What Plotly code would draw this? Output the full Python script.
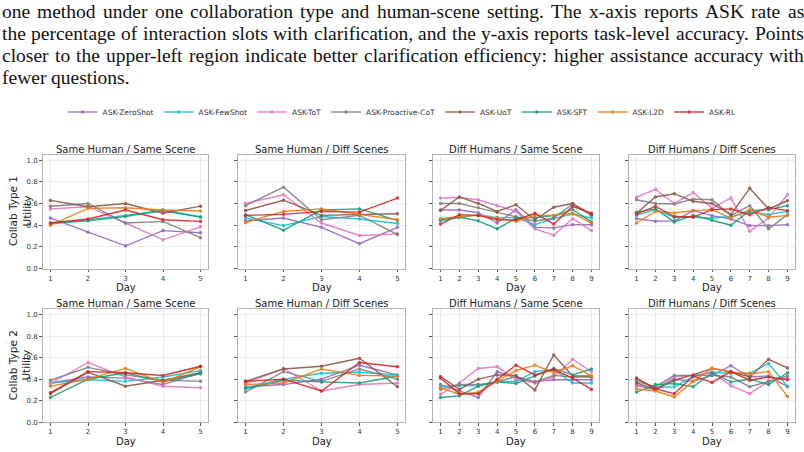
import plotly.graph_objects as go

W, H = 804, 452

methods = ["ASK-ZeroShot", "ASK-FewShot", "ASK-ToT", "ASK-Proactive-CoT",
           "ASK-UoT", "ASK-SFT", "ASK-L2D", "ASK-RL"]
colors = ["#9467bd", "#17becf", "#e377c2", "#7f7f7f",
          "#8c564b", "#1a9e77", "#ef7b10", "#d62728"]

days5 = [1, 2, 3, 4, 5]
days9 = [1, 2, 3, 4, 5, 6, 7, 8, 9]

panel_titles = ["Same Human / Same Scene", "Same Human / Diff Scenes",
                "Diff Humans / Same Scene", "Diff Humans / Diff Scenes"]
row_labels = ["Collab Type 1<br>Utility", "Collab Type 2<br>Utility"]
y_ticks = [0.0, 0.2, 0.4, 0.6, 0.8, 1.0]

# values in method order: ZeroShot, FewShot, ToT, Proactive-CoT, UoT, SFT, L2D, RL
t1_same_same = [
    [0.465, 0.335, 0.21, 0.35, 0.33],
    [0.41, 0.45, 0.49, 0.53, 0.475],
    [0.55, 0.57, 0.42, 0.265, 0.385],
    [0.575, 0.60, 0.42, 0.435, 0.285],
    [0.628, 0.57, 0.60, 0.51, 0.575],
    [0.42, 0.44, 0.48, 0.54, 0.475],
    [0.40, 0.555, 0.56, 0.54, 0.53],
    [0.42, 0.457, 0.54, 0.45, 0.435],
]
t1_same_diff = [
    [0.44, 0.466, 0.38, 0.23, 0.38],
    [0.466, 0.396, 0.48, 0.457, 0.415],
    [0.60, 0.68, 0.42, 0.305, 0.32],
    [0.58, 0.75, 0.45, 0.49, 0.315],
    [0.535, 0.63, 0.49, 0.50, 0.505],
    [0.497, 0.354, 0.54, 0.55, 0.445],
    [0.425, 0.527, 0.55, 0.497, 0.45],
    [0.49, 0.50, 0.527, 0.52, 0.65],
]
t1_diff_same = [
    [0.54, 0.54, 0.515, 0.42, 0.543, 0.38, 0.375, 0.405, 0.405],
    [0.44, 0.47, 0.497, 0.47, 0.47, 0.405, 0.46, 0.503, 0.466],
    [0.65, 0.655, 0.634, 0.58, 0.527, 0.366, 0.308, 0.46, 0.35],
    [0.60, 0.60, 0.56, 0.52, 0.48, 0.436, 0.466, 0.595, 0.49],
    [0.537, 0.66, 0.60, 0.527, 0.588, 0.45, 0.565, 0.60, 0.497],
    [0.45, 0.475, 0.44, 0.366, 0.466, 0.47, 0.488, 0.543, 0.43],
    [0.46, 0.48, 0.49, 0.466, 0.436, 0.49, 0.49, 0.51, 0.42],
    [0.41, 0.497, 0.49, 0.45, 0.448, 0.51, 0.41, 0.573, 0.51],
]
t1_diff_diff = [
    [0.46, 0.436, 0.44, 0.534, 0.488, 0.457, 0.396, 0.396, 0.405],
    [0.49, 0.543, 0.473, 0.473, 0.466, 0.48, 0.52, 0.497, 0.527],
    [0.658, 0.73, 0.60, 0.70, 0.557, 0.65, 0.345, 0.466, 0.68],
    [0.634, 0.60, 0.595, 0.64, 0.634, 0.49, 0.58, 0.366, 0.497],
    [0.51, 0.66, 0.69, 0.62, 0.60, 0.497, 0.74, 0.55, 0.625],
    [0.52, 0.55, 0.43, 0.49, 0.445, 0.40, 0.534, 0.543, 0.58],
    [0.42, 0.527, 0.512, 0.534, 0.543, 0.466, 0.543, 0.473, 0.49],
    [0.503, 0.573, 0.48, 0.475, 0.543, 0.55, 0.497, 0.564, 0.534],
]
t2_same_same = [
    [0.365, 0.42, 0.41, 0.35, 0.46],
    [0.365, 0.395, 0.38, 0.42, 0.48],
    [0.36, 0.555, 0.42, 0.335, 0.32],
    [0.39, 0.51, 0.44, 0.39, 0.38],
    [0.265, 0.465, 0.335, 0.39, 0.46],
    [0.23, 0.40, 0.46, 0.375, 0.45],
    [0.335, 0.40, 0.50, 0.37, 0.515],
    [0.275, 0.47, 0.46, 0.435, 0.52],
]
t2_same_diff = [
    [0.33, 0.35, 0.40, 0.53, 0.44],
    [0.32, 0.40, 0.455, 0.465, 0.44],
    [0.36, 0.50, 0.29, 0.35, 0.365],
    [0.28, 0.47, 0.38, 0.495, 0.40],
    [0.38, 0.495, 0.52, 0.595, 0.33],
    [0.31, 0.39, 0.375, 0.365, 0.43],
    [0.35, 0.365, 0.495, 0.435, 0.43],
    [0.38, 0.40, 0.29, 0.555, 0.515],
]
t2_diff_same = [
    [0.35, 0.29, 0.23, 0.47, 0.41, 0.375, 0.395, 0.395, 0.395],
    [0.33, 0.34, 0.34, 0.38, 0.38, 0.47, 0.49, 0.365, 0.365],
    [0.26, 0.365, 0.50, 0.515, 0.40, 0.365, 0.42, 0.585, 0.47],
    [0.305, 0.35, 0.35, 0.375, 0.425, 0.375, 0.435, 0.42, 0.42],
    [0.425, 0.305, 0.40, 0.44, 0.435, 0.30, 0.625, 0.43, 0.43],
    [0.23, 0.245, 0.335, 0.375, 0.36, 0.43, 0.50, 0.44, 0.495],
    [0.32, 0.26, 0.28, 0.38, 0.48, 0.53, 0.46, 0.525, 0.43],
    [0.41, 0.265, 0.265, 0.40, 0.53, 0.44, 0.49, 0.41, 0.305],
]
t2_diff_diff = [
    [0.34, 0.305, 0.40, 0.38, 0.435, 0.525, 0.42, 0.43, 0.33],
    [0.40, 0.32, 0.33, 0.42, 0.465, 0.455, 0.455, 0.545, 0.335],
    [0.35, 0.305, 0.42, 0.435, 0.465, 0.34, 0.265, 0.38, 0.41],
    [0.38, 0.33, 0.435, 0.435, 0.435, 0.42, 0.33, 0.38, 0.43],
    [0.365, 0.305, 0.39, 0.44, 0.50, 0.47, 0.42, 0.585, 0.505],
    [0.28, 0.35, 0.36, 0.33, 0.46, 0.375, 0.40, 0.35, 0.46],
    [0.31, 0.29, 0.235, 0.38, 0.50, 0.465, 0.45, 0.47, 0.24],
    [0.41, 0.31, 0.265, 0.43, 0.37, 0.47, 0.39, 0.42, 0.395],
]

caption_lines = [
    "one method under one collaboration type and human-scene setting. The x-axis reports ASK rate as",
    "the percentage of interaction slots with clarification, and the y-axis reports task-level accuracy. Points",
    "closer to the upper-left region indicate better clarification efficiency: higher assistance accuracy with",
    "fewer questions.",
]
caption_justify = [True, True, True, False]

panels = [
    (t1_same_same, days5), (t1_same_diff, days5), (t1_diff_same, days9), (t1_diff_diff, days9),
    (t2_same_same, days5), (t2_same_diff, days5), (t2_diff_same, days9), (t2_diff_diff, days9),
]

# layout geometry (pixels)
col_px = [(43, 208), (238, 405), (433, 599), (629, 795)]
row_px = [(156, 271), (312, 426)]

# Times / Liberation Serif advance widths (1/1000 em) for justification of caption text
_tw = {' ': 250, 'a': 444, 'b': 500, 'c': 444, 'd': 500, 'e': 444, 'f': 333, 'g': 500,
       'h': 500, 'i': 278, 'j': 278, 'k': 500, 'l': 278, 'm': 778, 'n': 500, 'o': 500,
       'p': 500, 'q': 500, 'r': 333, 's': 389, 't': 278, 'u': 500, 'v': 500, 'w': 722,
       'x': 500, 'y': 500, 'z': 444, 'A': 722, 'K': 722, 'P': 556, 'S': 556, 'T': 611,
       '.': 250, ',': 250, ':': 278, '-': 333}


def text_w(s, size):
    return sum(_tw.get(ch, 500) for ch in s) * size / 1000.0


fig = go.Figure()
layout = dict(width=W, height=H, margin=dict(l=0, r=0, t=0, b=0),
              paper_bgcolor="white", plot_bgcolor="white", showlegend=True)
annotations = []

for idx, (data, days) in enumerate(panels):
    r, c = divmod(idx, 4)
    n = idx + 1
    xa = "x" if n == 1 else f"x{n}"
    ya = "y" if n == 1 else f"y{n}"
    for m, (name, col) in enumerate(zip(methods, colors)):
        fig.add_trace(go.Scatter(
            x=days, y=data[m], mode="lines+markers", name=name,
            legendgroup=name, showlegend=(idx == 0),
            line=dict(color=col, width=1.4), opacity=0.9,
            marker=dict(size=3.5, color=col),
            xaxis=xa, yaxis=ya))
    x0, x1 = col_px[c]
    y0, y1 = row_px[r]
    pad = (len(days) - 1) * 0.05
    layout["xaxis" if n == 1 else f"xaxis{n}"] = dict(
        domain=[x0 / W, x1 / W], anchor=ya, range=[1 - pad, len(days) + pad],
        tickvals=days, ticks="outside", ticklen=2.5, tickwidth=0.8, tickcolor="#555",
        tickfont=dict(family="DejaVu Sans", size=7, color="#333"),
        showgrid=True, gridcolor="#ececec", gridwidth=0.8,
        showline=True, linecolor="#b3b3b3", linewidth=1, mirror=True,
        zeroline=False, fixedrange=True)
    layout["yaxis" if n == 1 else f"yaxis{n}"] = dict(
        domain=[1 - y1 / H, 1 - y0 / H], anchor=xa, range=[0, 1.05],
        tickvals=y_ticks, ticktext=[f"{v:.1f}" for v in y_ticks] if c == 0 else [""] * 6,
        ticks="outside", ticklen=3, tickwidth=0.8, tickcolor="#555",
        tickfont=dict(family="DejaVu Sans", size=7, color="#333"),
        showgrid=True, gridcolor="#ececec", gridwidth=0.8,
        showline=True, linecolor="#b3b3b3", linewidth=1, mirror=True,
        zeroline=False, fixedrange=True)
    annotations.append(dict(
        text=panel_titles[c], x=(x0 + x1) / 2 / W, y=1 - (y0 - 5.5) / H,
        xref="paper", yref="paper", xanchor="center", yanchor="middle",
        showarrow=False, font=dict(family="DejaVu Sans", size=10, color="#222")))
    annotations.append(dict(
        text="Day", x=(x0 + x1) / 2 / W, y=1 - (y1 + 19) / H,
        xref="paper", yref="paper", xanchor="center", yanchor="middle",
        showarrow=False, borderpad=0, font=dict(family="DejaVu Sans", size=10, color="#222")))

for r, lab in enumerate(row_labels):
    y0, y1 = row_px[r]
    annotations.append(dict(
        text=lab, x=19.5 / W, y=1 - (y0 + y1) / 2 / H, textangle=-90,
        xref="paper", yref="paper", xanchor="center", yanchor="middle",
        showarrow=False, font=dict(family="DejaVu Sans", size=10.5, color="#222")))

cap_size = 19.5
cap_left, cap_right = 1.0, 803.0
line_y = [12, 34, 56, 78]
for txt, py, just in zip(caption_lines, line_y, caption_justify):
    words = txt.split(" ")
    widths = [text_w(wd, cap_size) for wd in words]
    if just and len(words) > 1:
        gap = (cap_right - cap_left - sum(widths)) / (len(words) - 1)
    else:
        gap = text_w(" ", cap_size)
    xpos = cap_left
    for wd, ww in zip(words, widths):
        annotations.append(dict(
            text=wd, x=xpos / W, y=1 - py / H, xref="paper", yref="paper",
            xanchor="left", yanchor="middle", showarrow=False, borderpad=0,
            font=dict(family="Liberation Serif", size=cap_size, color="#111")))
        xpos += ww + gap

layout["annotations"] = annotations
layout["legend"] = dict(orientation="h", x=0.5, xanchor="center", y=1 - 113 / H,
                        yanchor="middle", font=dict(family="DejaVu Sans", size=7.5, color="#333"),
                        itemwidth=30, tracegroupgap=0, bgcolor="rgba(0,0,0,0)")
fig.update_layout(**layout)
fig.write_html("out.html")
